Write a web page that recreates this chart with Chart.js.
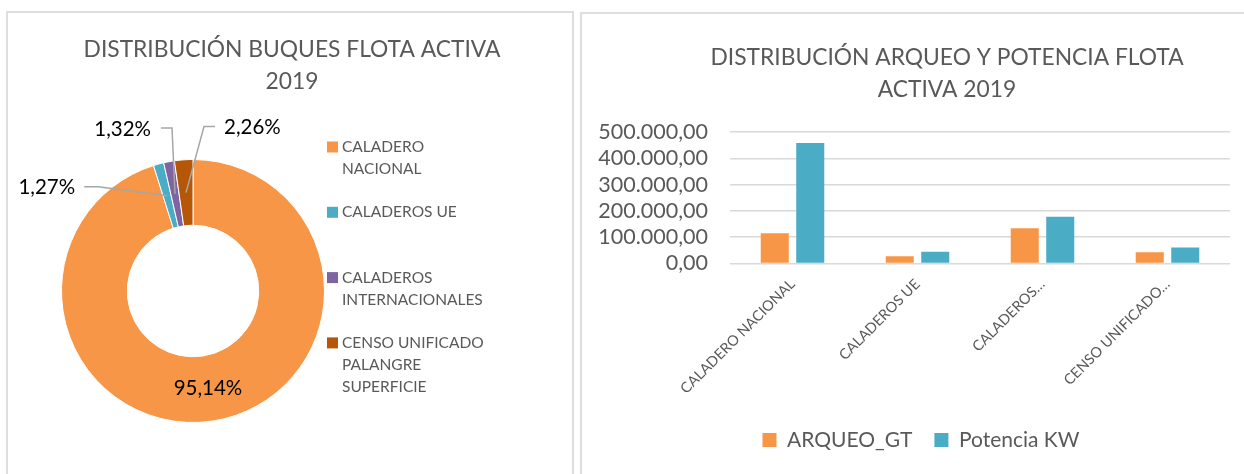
<!DOCTYPE html>
<html>
<head>
<meta charset="utf-8">
<script src="https://cdn.jsdelivr.net/npm/chart.js@4.4.0/dist/chart.umd.min.js"></script>
<style>
  html, body { margin: 0; padding: 0; background: #fff; }
  body { width: 1244px; height: 474px; position: relative; overflow: hidden; }
  .panel { position: absolute; border: 2px solid #dedede; border-bottom: none; box-sizing: border-box; }
  #panelLeft { left: 6px; top: 11px; width: 568px; height: 470px; }
  #panelRight { left: 580px; top: 12px; width: 700px; height: 470px; }
  canvas { position: absolute; top: 0; }
  #donut { left: 8px; }
  #bars { left: 582px; }
</style>
</head>
<body>
<div class="panel" id="panelLeft"></div>
<div class="panel" id="panelRight"></div>
<canvas id="donut" width="564" height="474"></canvas>
<canvas id="bars" width="662" height="474"></canvas>
<script>
// doughnut: share of active fleet vessels
const categories = ['CALADERO NACIONAL', 'CALADEROS UE', 'CALADEROS INTERNACIONALES', 'CENSO UNIFICADO PALANGRE SUPERFICIE'];
const sharePct = [95.14, 1.27, 1.32, 2.26];
const sliceColors = ['#F79646', '#4BACC6', '#8064A2', '#B65708'];
const donutTitle = ['DISTRIBUCIÓN BUQUES FLOTA ACTIVA', '2019'];

// bars: tonnage and power
const barTitle = ['DISTRIBUCIÓN ARQUEO Y POTENCIA FLOTA', 'ACTIVA 2019'];
const barTickLabels = ['CALADERO NACIONAL', 'CALADEROS UE', 'CALADEROS…', 'CENSO UNIFICADO…'];
const arqueoGT = [115000, 28000, 134000, 43000];
const potenciaKW = [458000, 44500, 178000, 61000];
const yTicks = [0, 100000, 200000, 300000, 400000, 500000];

Chart.defaults.font.family = 'Lato';
Chart.defaults.color = '#595959';

// 1234567.5 -> "1.234.567,50"
function fmtES(v, dec) {
  const parts = Number(v).toFixed(dec).split('.');
  const int = parts[0].replace(/\B(?=(\d{3})+(?!\d))/g, '.');
  return parts[1] ? int + ',' + parts[1] : int;
}

function wrap(ctx, text, maxWidth) {
  const words = text.split(' ');
  const lines = [];
  let cur = '';
  words.forEach(w => {
    const t = cur ? cur + ' ' + w : w;
    if (cur && ctx.measureText(t).width > maxWidth) {
      lines.push(cur);
      cur = w;
    } else {
      cur = t;
    }
  });
  if (cur) lines.push(cur);
  return lines;
}

const titleLines = {
  id: 'titleLines',
  afterDraw(chart, args, o) {
    const ctx = chart.ctx;
    ctx.save();
    ctx.font = o.size + 'px Lato';
    ctx.fillStyle = '#595959';
    ctx.textAlign = 'center';
    ctx.textBaseline = 'middle';
    o.lines.forEach((t, i) => ctx.fillText(t, o.x, o.y + i * o.lineHeight));
    ctx.restore();
  }
};

// leader lines for the thin slices (offsets from the slice centroid)
const callouts = [null,
  { dx: -69, dy: -9, run: -14, gap: -9 },
  { dx: -3, dy: -66, run: -11, gap: -10 },
  { dx: 18, dy: -66, run: 11, gap: 9 }];

const donutLabels = {
  id: 'donutLabels',
  afterDatasetsDraw(chart) {
    const ctx = chart.ctx;
    const meta = chart.getDatasetMeta(0);
    ctx.save();
    ctx.font = '20.5px Lato';
    ctx.textBaseline = 'middle';
    meta.data.forEach((arc, i) => {
      const p = arc.tooltipPosition();
      const txt = fmtES(chart.data.datasets[0].data[i], 2) + '%';
      const c = callouts[i];
      ctx.fillStyle = '#000';
      if (!c) {
        ctx.textAlign = 'center';
        ctx.fillText(txt, p.x, p.y);
        return;
      }
      const ex = p.x + c.dx, ey = p.y + c.dy;
      ctx.strokeStyle = '#a6a6a6';
      ctx.lineWidth = 1.5;
      ctx.beginPath();
      ctx.moveTo(p.x, p.y);
      ctx.lineTo(ex, ey);
      ctx.lineTo(ex + c.run, ey);
      ctx.stroke();
      ctx.textAlign = c.run < 0 ? 'right' : 'left';
      ctx.fillText(txt, ex + c.run + c.gap, ey + 1);
    });
    ctx.restore();
  }
};

const sideLegend = {
  id: 'sideLegend',
  afterDraw(chart, args, o) {
    const ctx = chart.ctx;
    ctx.save();
    ctx.font = o.size + 'px Lato';
    ctx.textBaseline = 'middle';
    ctx.textAlign = 'left';
    chart.data.labels.forEach((label, i) => {
      const y = o.y + i * o.step;
      ctx.fillStyle = chart.data.datasets[0].backgroundColor[i];
      ctx.fillRect(o.x, y - o.box / 2, o.box, o.box);
      ctx.fillStyle = '#595959';
      wrap(ctx, label, o.maxWidth).forEach((ln, k) => {
        ctx.fillText(ln, o.x + o.box + o.gap, y + k * o.lineHeight);
      });
    });
    ctx.restore();
  }
};

new Chart(document.getElementById('donut'), {
  type: 'doughnut',
  data: {
    labels: categories,
    datasets: [{
      data: sharePct,
      backgroundColor: sliceColors,
      borderColor: '#fff',
      borderWidth: 1
    }]
  },
  options: {
    responsive: false,
    animation: false,
    cutout: '50%',
    layout: { padding: { left: 53, right: 247, top: 159, bottom: 51 } },
    plugins: {
      legend: { display: false },
      tooltip: { enabled: false },
      titleLines: { lines: donutTitle, x: 284, y: 50, lineHeight: 32, size: 22.8 },
      sideLegend: { x: 319, y: 147, step: 65.3, box: 11, gap: 4, size: 15.5, lineHeight: 22, maxWidth: 150 }
    }
  },
  plugins: [titleLines, donutLabels, sideLegend]
});

new Chart(document.getElementById('bars'), {
  type: 'bar',
  data: {
    labels: barTickLabels,
    datasets: [
      { label: 'ARQUEO_GT', data: arqueoGT, backgroundColor: '#F79646', barPercentage: 0.79, categoryPercentage: 0.568 },
      { label: 'Potencia KW', data: potenciaKW, backgroundColor: '#4BACC6', barPercentage: 0.79, categoryPercentage: 0.568 }
    ]
  },
  options: {
    responsive: false,
    animation: false,
    layout: { padding: { left: 16, right: 0, top: 132, bottom: 13.5 } },
    scales: {
      x: {
        grid: { display: false },
        border: { display: false },
        ticks: { autoSkip: false, minRotation: 45, maxRotation: 45, padding: 4, font: { size: 14.5 }, color: '#595959' },
        afterFit(axis) { axis.height = 144; }
      },
      y: {
        min: yTicks[0],
        max: yTicks[yTicks.length - 1],
        ticks: {
          stepSize: yTicks[1] - yTicks[0],
          autoSkip: false,
          padding: 22,
          font: { size: 21.5 },
          color: '#595959',
          callback: v => fmtES(v, 2)
        },
        grid: { color: '#d9d9d9', lineWidth: 1.5, drawTicks: false },
        border: { display: false },
        afterFit(axis) { axis.width = 132; }
      },
      // empty right margin between the plot and the panel edge
      yPad: {
        position: 'right',
        grid: { display: false },
        border: { display: false },
        ticks: { display: false },
        afterFit(axis) { axis.width = 14; }
      }
    },
    plugins: {
      legend: {
        position: 'bottom',
        labels: { boxWidth: 14, boxHeight: 14, padding: 22, font: { size: 21 }, color: '#595959' }
      },
      tooltip: { enabled: false },
      titleLines: { lines: barTitle, x: 365, y: 58, lineHeight: 32, size: 22.8 }
    }
  },
  plugins: [titleLines]
});
</script>
</body>
</html>
